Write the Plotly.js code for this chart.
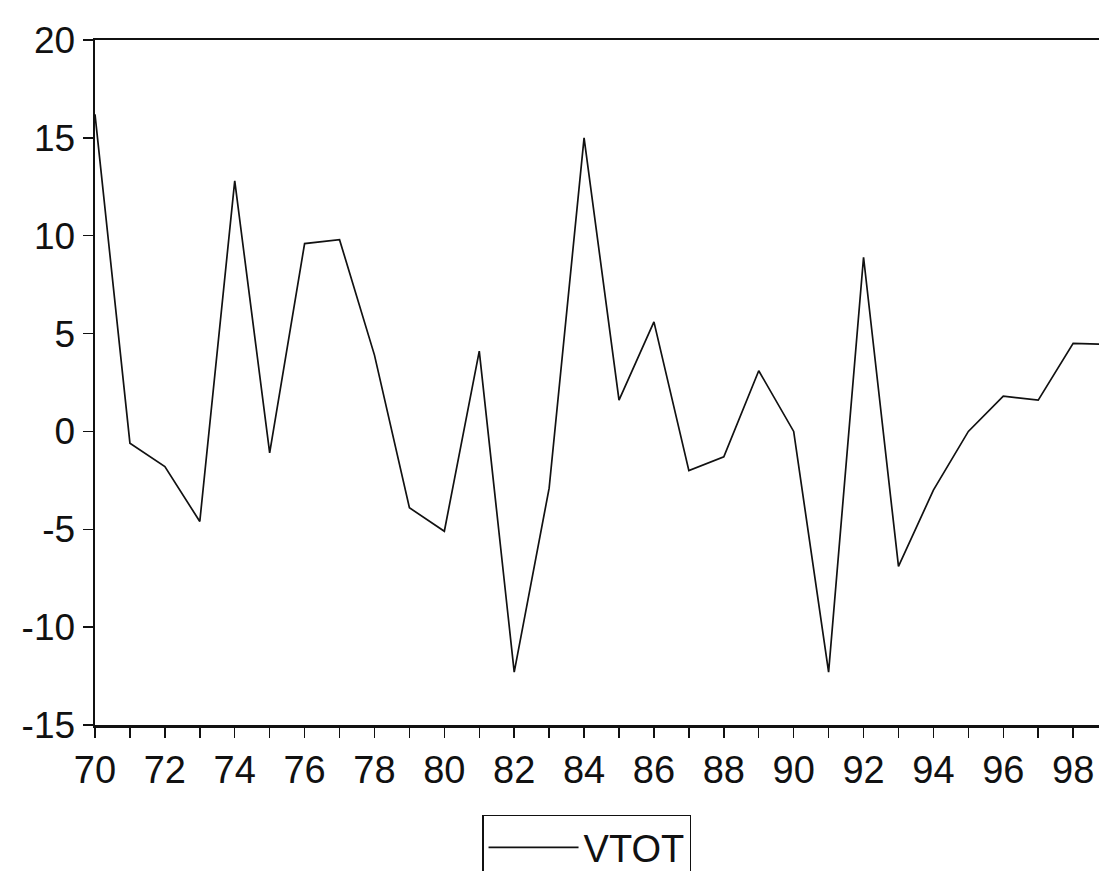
<!DOCTYPE html>
<html>
<head>
<meta charset="utf-8">
<script src="https://cdn.plot.ly/plotly-3.0.1.min.js"></script>
<style>
  html, body { margin: 0; padding: 0; background: #ffffff; }
  #chart { width: 1099px; height: 871px; }
</style>
</head>
<body>
<div id="chart"></div>
<script>
// Years (two-digit, 1970-1999)
var years = [70, 71, 72, 73, 74, 75, 76, 77, 78, 79,
             80, 81, 82, 83, 84, 85, 86, 87, 88, 89,
             90, 91, 92, 93, 94, 95, 96, 97, 98, 99];
// VTOT values
var vtot = [16.2, -0.6, -1.8, -4.6, 12.8, -1.1, 9.6, 9.8, 3.9, -3.9,
            -5.1, 4.1, -12.3, -2.9, 15.0, 1.6, 5.6, -2.0, -1.3, 3.1,
            0.0, -12.3, 8.9, -6.9, -3.0, 0.0, 1.8, 1.6, 4.5, 4.45];
var xTickVals = [70, 72, 74, 76, 78, 80, 82, 84, 86, 88, 90, 92, 94, 96, 98];
var xTickText = ["70", "72", "74", "76", "78", "80", "82", "84", "86", "88", "90", "92", "94", "96", "98"];
var yTickVals = [-15, -10, -5, 0, 5, 10, 15, 20];
var yTickText = ["-15", "-10", "-5", "0", "5", "10", "15", "20"];
var seriesName = "VTOT";

var trace = {
  x: years,
  y: vtot,
  type: "scatter",
  mode: "lines",
  name: seriesName,
  line: { color: "#111111", width: 1.7 },
  showlegend: true
};

var layout = {
  width: 1099,
  height: 871,
  paper_bgcolor: "#ffffff",
  plot_bgcolor: "#ffffff",
  margin: { l: 95, r: 0, t: 40, b: 146, pad: 0, autoexpand: false },
  font: { family: "Liberation Sans, Arial, sans-serif", color: "#111111", size: 38 },
  showlegend: true,
  xaxis: {
    range: [70, 98.74],
    tickmode: "array",
    tickvals: xTickVals,
    ticktext: xTickText,
    ticks: "outside",
    ticklen: 10,
    tickwidth: 1.5,
    tickcolor: "#111111",
    minor: { dtick: 1, tick0: 70, ticks: "outside", ticklen: 10, tickwidth: 1.5, tickcolor: "#111111", showgrid: false },
    showline: true,
    linecolor: "#111111",
    linewidth: 2.5,
    mirror: true,
    showgrid: false,
    zeroline: false,
    automargin: false,
    tickfont: { size: 38, family: "Liberation Sans, Arial, sans-serif", color: "#111111" }
  },
  yaxis: {
    range: [-15, 20],
    tickmode: "array",
    tickvals: yTickVals,
    ticktext: yTickText,
    ticks: "outside",
    ticklen: 10,
    tickwidth: 1.5,
    tickcolor: "#111111",
    showline: true,
    linecolor: "#111111",
    linewidth: 2.5,
    mirror: false,
    showgrid: false,
    zeroline: false,
    automargin: false,
    tickfont: { size: 37, family: "Liberation Sans, Arial, sans-serif", color: "#111111" }
  },
  legend: {
    orientation: "h",
    x: 0.3855,
    xanchor: "left",
    y: -0.131,
    yanchor: "top",
    bgcolor: "#ffffff",
    bordercolor: "#111111",
    borderwidth: 1.5,
    itemwidth: 90,
    font: { size: 38, family: "Liberation Sans, Arial, sans-serif", color: "#111111" }
  }
};

Plotly.newPlot("chart", [trace], layout, { displayModeBar: false, staticPlot: true });
</script>
</body>
</html>
